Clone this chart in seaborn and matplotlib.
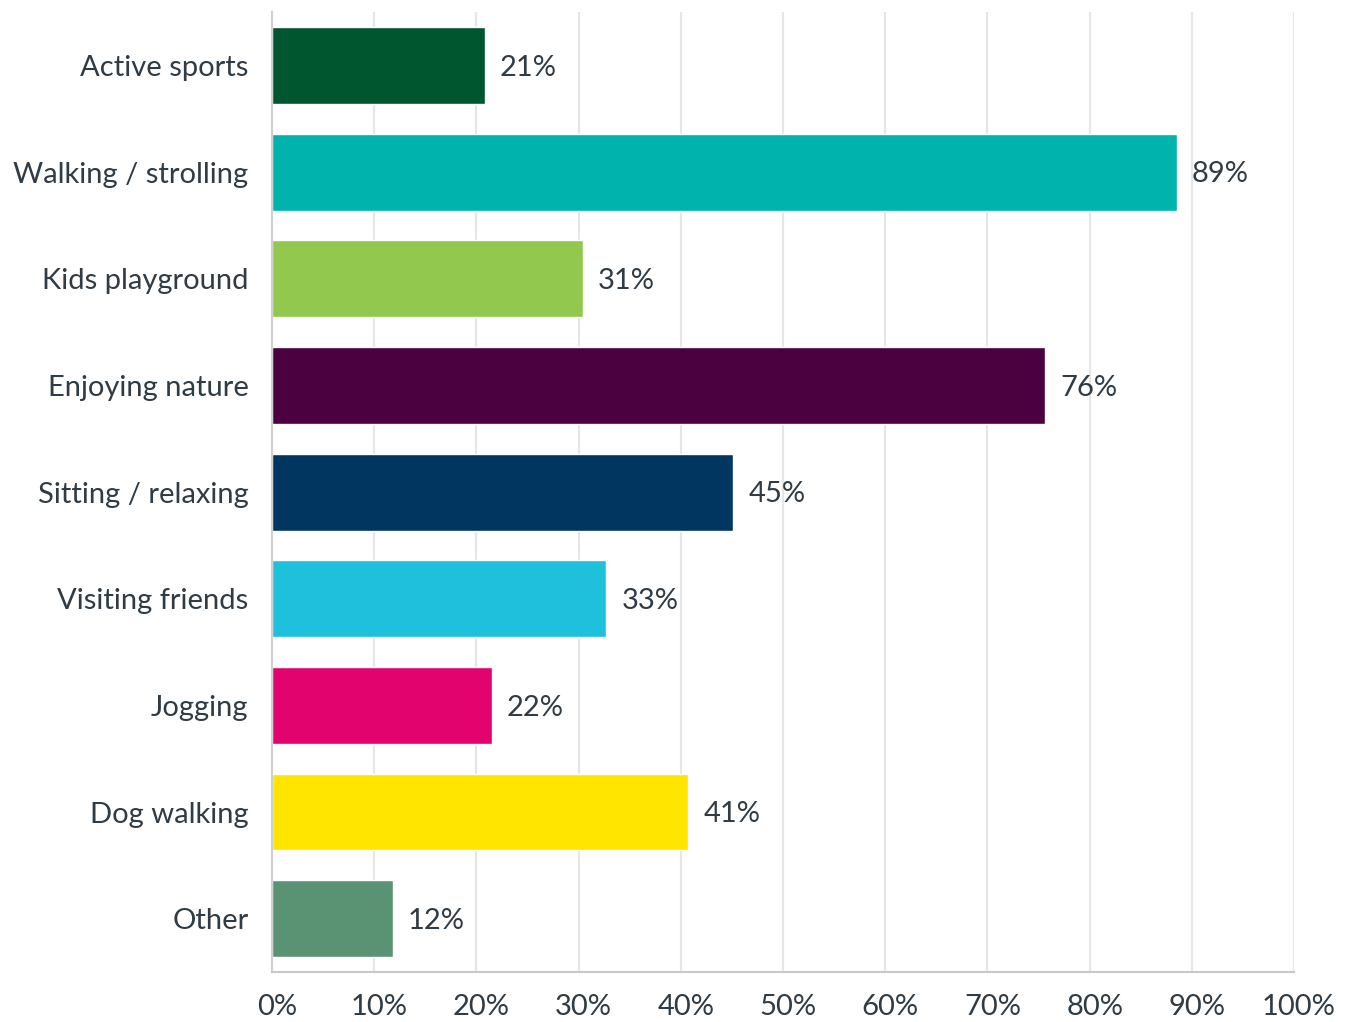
import matplotlib
matplotlib.use("Agg")
import matplotlib.pyplot as plt
import matplotlib.transforms as mtransforms
import seaborn as sns
import pandas as pd

categories = ["Active sports", "Walking / strolling", "Kids playground", "Enjoying nature",
              "Sitting / relaxing", "Visiting friends", "Jogging", "Dog walking", "Other"]
values = [20.8, 88.5, 30.4, 75.6, 45.1, 32.7, 21.5, 40.7, 11.8]
value_labels = ["21%", "89%", "31%", "76%", "45%", "33%", "22%", "41%", "12%"]
colors = ["#00572F", "#00B3AD", "#92C84E", "#4B003F", "#003660",
          "#1EC0DC", "#E2036E", "#FFE500", "#5A9373"]
xticks = [0, 10, 20, 30, 40, 50, 60, 70, 80, 90, 100]

df = pd.DataFrame({"category": categories, "value": values})

sns.set_style("white")
plt.rcParams["font.family"] = ["Lato", "DejaVu Sans"]
text_color = "#2F3B45"

fig = plt.figure(figsize=(13.46, 10.22), dpi=100)
ax = fig.add_axes([0.2021, 0.0489, 0.7593, 0.9391])

sns.barplot(data=df, x="value", y="category", hue="category", palette=colors,
            legend=False, width=0.72, saturation=1, ax=ax)

ax.set_xlim(0, 100)
ax.set_ylim(8.5, -0.5)
ax.set_xticks(xticks)
ax.set_xticklabels([f"{t}%" for t in xticks])
ax.xaxis.grid(True, color="#E6E6E6", linewidth=1.5)
ax.set_axisbelow(True)
ax.set_xlabel("")
ax.set_ylabel("")
for s in ["top", "right"]:
    ax.spines[s].set_visible(False)
ax.spines["left"].set_color("#D0D0D0")
ax.spines["bottom"].set_color("#C8C8C8")
ax.spines["left"].set_linewidth(1.5)
ax.spines["bottom"].set_linewidth(1.5)
ax.tick_params(axis="both", length=0, labelsize=21, labelcolor=text_color)
ax.tick_params(axis="x", pad=16)
ax.tick_params(axis="y", pad=17)

# nudge x tick labels a bit to the right like the original
shift = mtransforms.ScaledTranslation(5 / 100, 0, fig.dpi_scale_trans)
for lab in ax.get_xticklabels():
    lab.set_transform(lab.get_transform() + shift)

for i, (v, lab) in enumerate(zip(values, value_labels)):
    ax.text(v + 1.5, i + 0.02, lab, va="center", ha="left", fontsize=21, color=text_color)

fig.savefig("out.png", dpi=100)
